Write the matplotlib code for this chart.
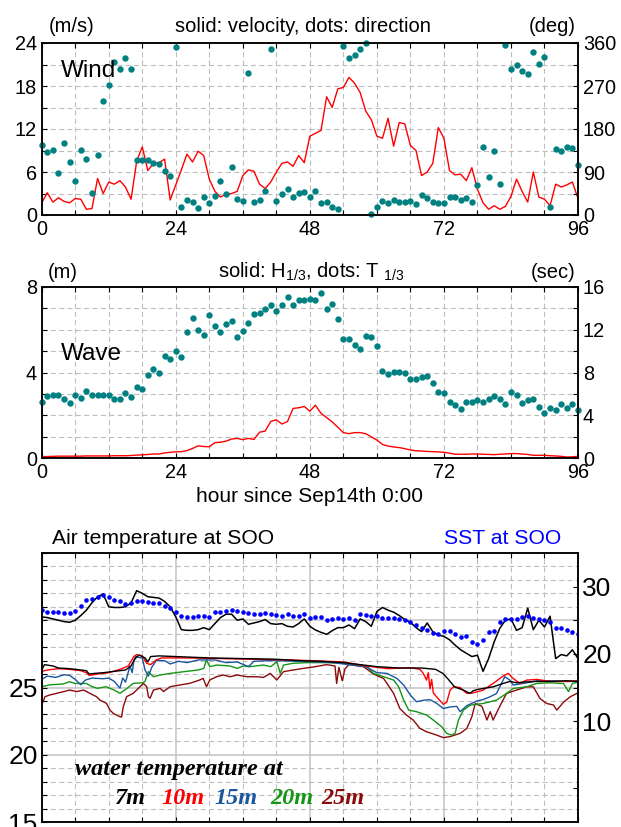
import numpy as np
import matplotlib
matplotlib.use('Agg')
import matplotlib.pyplot as plt
from matplotlib.ticker import MultipleLocator, FixedLocator, FixedFormatter, NullFormatter

plt.rcParams['font.family'] = ['Liberation Sans', 'DejaVu Sans']
plt.rcParams['mathtext.fontset'] = 'custom'
plt.rcParams['mathtext.rm'] = 'Liberation Sans'
plt.rcParams['mathtext.it'] = 'Liberation Sans:italic'
plt.rcParams['mathtext.bf'] = 'Liberation Sans:bold'

# ---------------- data ----------------
hours = np.arange(97)

wind_speed = [1.7, 3.1, 1.8, 2.4, 1.9, 1.7, 2.3, 2.2, 0.8, 0.9,
              5.1, 3.0, 4.6, 4.3, 4.8, 3.9, 2.2, 7.5, 9.5, 6.2,
              7.2, 7.3, 7.8, 2.1, 4.2, 6.3, 8.5, 7.4, 8.9, 8.3,
              5.0, 3.3, 2.5, 2.9, 3.0, 3.3, 5.5, 6.3, 6.1, 4.3,
              3.7, 4.6, 6.0, 7.2, 7.4, 6.8, 8.3, 7.3, 11.0, 11.4,
              11.8, 16.5, 15.0, 17.6, 17.8, 19.2, 18.4, 17.1, 14.5, 13.3,
              11.0, 10.7, 13.5, 9.6, 12.9, 12.7, 9.7, 9.0, 5.5, 6.0,
              7.2, 12.2, 10.7, 6.2, 5.6, 5.7, 4.8, 6.6, 3.6, 1.7,
              0.8, 1.3, 0.8, 1.2, 2.6, 5.0, 3.3, 1.8, 6.0, 2.5,
              2.2, 1.3, 4.3, 3.9, 4.2, 4.6, 2.3]

wind_dir = [146, 131, 136, 87, 151, 111, 71, 137, 118, 47,
            125, 239, 273, 320, 305, 328, 306, 116, 116, 116,
            108, 107, 93, 82, 351, 17, 32, 28, 15, 38,
            26, 40, 72, 43, 100, 33, 29, 297, 28, 32,
            51, 347, 29, 45, 54, 38, 47, 48, 38, 50,
            26, 28, 17, 13, 354, 328, 334, 348, 360, 2,
            17, 29, 26, 32, 27, 27, 30, 24, 42, 36,
            27, 26, 26, 38, 38, 31, 36, 27, 62, 143,
            80, 134, 65, 355, 305, 315, 302, 295, 341, 317,
            331, 17, 138, 134, 143, 141, 104]

wave_height = [0.08, 0.08, 0.09, 0.10, 0.10, 0.10, 0.10, 0.10, 0.11, 0.11,
               0.11, 0.11, 0.11, 0.12, 0.12, 0.12, 0.13, 0.15, 0.16, 0.18,
               0.20, 0.20, 0.25, 0.28, 0.30, 0.31, 0.36, 0.46, 0.58, 0.55,
               0.54, 0.73, 0.75, 0.80, 0.90, 0.93, 0.87, 0.93, 0.88, 1.22,
               1.27, 1.72, 1.80, 1.60, 1.72, 2.33, 2.36, 2.42, 2.20, 2.48,
               2.10, 1.90, 1.70, 1.45, 1.20, 1.15, 1.20, 1.20, 1.15, 1.00,
               0.85, 0.65, 0.57, 0.53, 0.50, 0.45, 0.39, 0.35, 0.34, 0.32,
               0.31, 0.30, 0.28, 0.24, 0.19, 0.19, 0.19, 0.20, 0.20, 0.19,
               0.18, 0.17, 0.19, 0.20, 0.22, 0.22, 0.20, 0.18, 0.14, 0.14,
               0.14, 0.12, 0.11, 0.09, 0.06, 0.07, 0.09]

wave_period = [5.3, 5.8, 5.9, 5.9, 5.5, 5.2, 5.9, 5.6, 6.3, 5.9,
               5.9, 5.9, 5.9, 5.5, 5.5, 6.1, 5.7, 6.7, 6.5, 7.8,
               8.3, 8.0, 9.6, 9.3, 10.0, 9.5, 11.8, 13.1, 12.0, 11.5,
               13.4, 12.4, 11.8, 12.5, 12.8, 11.3, 11.9, 12.6, 13.5, 13.6,
               13.9, 14.3, 13.8, 14.3, 15.1, 14.3, 14.8, 14.8, 14.9, 14.8,
               15.4, 13.9, 14.4, 13.0, 11.1, 11.1, 10.6, 10.2, 11.4, 11.3,
               10.5, 8.2, 7.9, 8.1, 8.1, 8.0, 7.4, 7.4, 7.6, 7.7,
               7.0, 6.2, 6.1, 5.3, 5.0, 4.6, 5.3, 5.3, 5.4, 5.3,
               5.5, 5.8, 5.5, 5.1, 6.2, 5.9, 5.2, 5.4, 5.5, 4.8,
               4.2, 4.7, 4.5, 5.1, 4.7, 5.1, 4.5]

sst = [26.5, 26.3, 26.2, 26.2, 26.1, 26.1, 26.4, 27.1, 28.0, 28.1,
       28.5, 28.7, 28.5, 28.0, 27.9, 27.4, 27.5, 27.9, 27.8, 27.7,
       27.6, 27.5, 27.1, 26.8, 26.3, 25.6, 25.5, 25.5, 25.6, 25.7,
       25.5, 26.2, 26.3, 26.4, 26.5, 26.4, 26.3, 26.1, 26.0, 26.0,
       26.1, 25.9, 25.8, 25.7, 25.9, 25.7, 25.6, 25.9, 25.4, 25.5,
       25.5, 25.1, 25.2, 25.3, 25.2, 25.4, 25.1, 25.9, 25.8, 25.7,
       25.6, 25.4, 25.3, 25.3, 25.2, 25.1, 24.8, 24.3, 23.9, 23.6,
       23.1, 23.0, 23.4, 23.4, 22.9, 22.5, 22.6, 21.7, 21.5, 22.1,
       23.3, 23.4, 24.7, 25.2, 25.2, 25.2, 25.5, 25.7, 25.4, 25.2,
       25.0, 24.7, 23.9, 23.8, 23.6, 23.2, 23.0]

air_temp = [25.5, 25.4, 25.2, 25.0, 24.8, 24.7, 25.0, 25.7, 26.5, 27.6,
            28.5, 28.9, 27.0, 26.9, 26.9, 27.0, 27.6, 29.4, 29.0, 28.5,
            28.4, 28.3, 27.8, 27.0, 25.5, 23.6, 23.5, 23.5, 23.6, 23.9,
            23.6, 24.5, 25.4, 25.9, 25.9, 25.0, 25.2, 24.4, 24.6, 24.8,
            25.1, 24.5, 24.4, 24.5, 24.1, 24.0, 24.5, 25.2, 24.1, 23.55,
            23.2, 22.9, 23.45, 23.9, 23.9, 24.3, 23.75, 25.2, 24.8, 24.1,
            26.3, 26.9, 26.5, 26.2, 25.7, 25.1, 24.7, 23.9, 23.3, 24.6,
            23.3, 22.8, 22.6, 22.1, 21.3, 20.6, 20.1, 19.6, 19.8, 17.4,
            19.3, 21.8, 23.8, 25.0, 25.2, 23.5, 23.9, 26.8, 23.6, 25.0,
            24.0, 25.6, 19.3, 19.9, 19.7, 20.6, 19.3]

# water temperature (hour, degC) at each depth
t7 = [0, 0.5, 2, 3, 5, 7, 8, 8.5, 9.5, 11, 13, 15, 16, 16.8, 17.5, 18.5, 19, 19.5, 21,
      24, 30, 36, 42, 46, 50, 54, 57, 60, 64, 68, 70.5, 71.8, 72.8, 73.9, 75.5, 76.7,
      77.2, 78, 79, 80.8, 82.6, 83.8, 85, 86.2, 88.6, 91, 94, 96]
w7 = [26.3, 26.7, 26.6, 26.45, 26.4, 26.3, 26.25, 26.0, 26.05, 26.1, 26.2, 26.3, 26.6, 27.25,
      27.4, 27.2, 26.9, 27.3, 27.35, 27.3, 27.2, 27.15, 27.1, 27.0, 26.95, 26.85, 26.7, 26.55,
      26.45, 26.45, 26.35, 26.05, 25.6, 25.05, 24.8, 24.56, 24.75, 24.85, 24.93, 25.05, 25.3,
      25.45, 25.35, 25.4, 25.45, 25.45, 25.5, 25.45]

t10 = [0, 1, 3, 5, 7, 8, 8.5, 10, 12, 14, 15.5, 16.5, 17, 18, 18.8, 19.5, 20.5, 21.5, 26,
       32, 38, 44, 48, 54, 58, 62, 66, 67.7, 68.3, 68.9, 69.2, 69.5, 69.8, 70.1, 70.7, 71.9,
       72.5, 73.1, 73.7, 74.9, 76.1, 77.2, 79, 80.8, 82.6, 83.5, 84.4, 85.6, 86.8, 88.6, 91,
       94, 96]
w10 = [26.2, 26.3, 26.4, 26.35, 26.25, 26.1, 25.9, 26.0, 26.1, 26.35, 26.6, 27.3, 27.45,
       27.35, 26.8, 26.7, 27.05, 27.2, 27.2, 27.15, 27.1, 27.05, 27.0, 26.9, 26.6, 26.4, 26.47,
       26.35, 26.05, 25.55, 26.1, 24.9, 25.6, 24.6, 24.3, 23.75, 23.9, 24.8, 25.05, 25.0, 24.56,
       24.6, 24.8, 25.3, 25.85, 26.05, 25.67, 25.3, 25.55, 25.6, 25.45, 25.45, 25.5]

t15 = [0, 1, 2.5, 4, 5, 6, 7, 7.8, 9, 11, 12, 13, 14, 14.5, 15, 15.8, 16.2, 16.5, 17, 18,
       18.5, 19.1, 19.7, 20.5, 22, 23, 24.5, 26, 28, 31, 33, 35, 37, 38, 41, 46, 52, 58, 60,
       61.8, 63.6, 64.8, 66, 67.1, 68.3, 69.5, 70.7, 71.9, 73.1, 74.3, 74.9, 76.1, 77.9, 79,
       80.2, 81.4, 82.3, 82.9, 83.8, 84.4, 86.2, 88.6, 91, 94, 96]
w15 = [25.6, 25.85, 25.75, 25.95, 25.9, 25.6, 25.2, 25.55, 25.7, 25.65, 25.7, 25.45, 24.95,
       25.7, 25.4, 26.6, 26.1, 27.0, 27.25, 27.2, 26.3, 25.85, 26.5, 27.0, 27.0, 26.75, 26.95,
       26.85, 27.05, 27.05, 26.85, 26.9, 26.55, 26.95, 27.0, 26.95, 26.85, 26.55, 26.1, 26.05,
       25.67, 25.18, 24.43, 23.94, 24.05, 24.1, 23.82, 23.44, 23.55, 23.6, 23.2, 23.65, 24.0,
       24.1, 24.3, 24.55, 25.3, 25.8, 25.55, 25.18, 25.3, 25.5, 25.5, 25.45, 25.45]

t20 = [0, 1.5, 3.8, 5, 6, 8, 9, 10, 11.5, 13, 14, 15, 16.4, 18, 18.5, 19.1, 20, 21.2, 23,
       25.5, 28, 29, 29.5, 30.1, 31.3, 33.7, 35, 36.1, 37.3, 39.7, 41, 42.1, 42.7, 43.3, 45,
       47.5, 51, 55, 58.2, 59.4, 61.2, 63, 63.9, 64.8, 65.7, 67.1, 68.9, 70.1, 71.6, 72.5,
       73.4, 74, 74.6, 75.5, 76.7, 79, 81.4, 83.2, 84.4, 86.8, 88.6, 91, 93.4, 94.3, 95, 96]
w20 = [25.06, 25.2, 25.26, 25.43, 25.3, 25.3, 25.06, 24.94, 25.06, 24.8, 24.57, 24.85, 25.31,
       25.35, 25.45, 26.18, 25.8, 25.93, 26.05, 26.18, 26.3, 26.42, 27.04, 26.55, 26.67, 26.6,
       26.42, 26.6, 26.55, 26.67, 26.55, 26.92, 26.05, 26.67, 26.8, 26.85, 26.85, 26.8, 26.55,
       26.05, 25.8, 25.55, 25.05, 24.06, 23.32, 23.2, 22.95, 22.58, 22.08, 21.59, 21.46, 21.6,
       22.58, 23.32, 23.69, 23.81, 24.06, 24.56, 24.93, 25.05, 25.3, 25.35, 25.3, 24.7, 25.3,
       25.4]

t25 = [0, 0.6, 1.5, 2.7, 4, 5, 6.3, 7.5, 8.6, 9.8, 10.4, 11.6, 12.2, 12.8, 13.4, 14, 14.3,
       14.6, 15.2, 16.4, 17.6, 18.2, 18.8, 19.1, 19.4, 20, 21.2, 21.8, 23, 24.8, 26.5, 28.3,
       28.9, 29.5, 30.1, 30.7, 31.3, 32.5, 33.7, 35, 36.7, 38.5, 39.7, 40.9, 42.1, 43.3, 45,
       46.8, 49, 51, 52.5, 52.8, 53.2, 53.8, 54.3, 55, 57.6, 59.4, 61.2, 63, 64.1, 65.3, 66.5,
       67.7, 68.9, 70.7, 71.9, 73.1, 74.9, 76.1, 77, 77.6, 78.8, 79.7, 80.3, 80.8, 82, 83.2,
       85, 86.8, 88, 89.2, 90.4, 91.6, 92.2, 93.4, 94.6, 96]
w25 = [23.7, 24.32, 24.45, 24.57, 24.7, 24.81, 24.7, 24.81, 24.57, 24.32, 24.07, 23.82, 23.33,
       23.08, 22.95, 22.83, 22.8, 23.57, 24.32, 24.57, 25.06, 25.31, 25.06, 24.32, 24.2, 24.81,
       24.94, 24.7, 25.06, 25.19, 25.31, 25.56, 25.68, 25.06, 25.56, 25.68, 25.8, 25.93, 25.8,
       25.93, 25.8, 25.8, 25.75, 26.05, 25.56, 26.18, 26.3, 26.42, 26.55, 26.7, 26.6, 25.3,
       26.5, 25.5, 26.4, 26.7, 26.55, 26.0, 25.67, 24.56, 23.44, 22.95, 22.58, 21.96, 21.71,
       21.46, 21.27, 21.35, 21.59, 21.96, 22.82, 23.81, 23.6, 22.58, 23.2, 22.58, 23.6, 24.56,
       24.81, 25.05, 25.05, 24.18, 23.81, 23.7, 23.32, 23.9, 24.31, 24.6]

depth_labels = ['7m', '10m', '15m', '20m', '25m']
depth_colors = ['black', '#ff0000', '#1a55a0', '#149614', '#8b0a0a']

# ---------------- figure ----------------
W, H = 621, 827
fig = plt.figure(figsize=(W / 100, H / 100), dpi=100)


def rect(l, t, r, b):
    return [l / W, 1 - b / H, (r - l) / W, (b - t) / H]


def ptext(x, y, s, **kw):
    kw.setdefault('va', 'center')
    fig.text(x / W, 1 - y / H, s, **kw)


GRID = dict(color='#bdbdbd', linestyle=(0, (4.5, 3)), linewidth=0.8)
TEAL = '#008080'
TICK_FS = 14.3
TITLE_FS = 14.5


def frame(ax):
    for s in ax.spines.values():
        s.set_linewidth(1.1)
        s.set_color('black')


def base_axes(ax, fs, pad):
    frame(ax)
    ax.set_xlim(0, 96)
    ax.tick_params(which='both', direction='in', length=3.6, width=0.8,
                   top=True, bottom=True, left=True, right=False,
                   labelsize=fs, pad=pad)
    ax.set_axisbelow(True)


# ---- Wind ----
ax1 = fig.add_axes(rect(41.7, 43, 578, 215))
base_axes(ax1, TICK_FS, 3.5)
ax1.set_ylim(0, 24)
ax1.xaxis.set_major_locator(MultipleLocator(24))
ax1.xaxis.set_minor_locator(MultipleLocator(6))
ax1.yaxis.set_major_locator(MultipleLocator(6))
ax1.yaxis.set_minor_locator(MultipleLocator(3))
ax1.grid(which='both', **GRID)
ax1.plot(hours, wind_speed, color='red', lw=1.0)
ax1r = ax1.twinx()
frame(ax1r)
ax1r.set_ylim(0, 360)
ax1r.yaxis.set_major_locator(MultipleLocator(90))
ax1r.yaxis.set_minor_locator(MultipleLocator(45))
ax1r.tick_params(which='both', direction='in', length=3.6, width=0.8,
                 labelsize=TICK_FS, pad=3.5)
ax1r.plot(hours, wind_dir, 'o', color=TEAL, ms=4.6, mec='none', clip_on=False)

ptext(49, 27, '(m/s)', size=TITLE_FS)
ptext(303, 27, 'solid: velocity, dots: direction', ha='center', size=TITLE_FS)
ptext(576, 27, '(deg)', ha='right', size=TITLE_FS)
ptext(61, 71, 'Wind', size=17.5)

# ---- Wave ----
ax2 = fig.add_axes(rect(41.7, 287, 578, 458.3))
base_axes(ax2, TICK_FS, 3.5)
ax2.set_ylim(0, 8)
ax2.xaxis.set_major_locator(MultipleLocator(24))
ax2.xaxis.set_minor_locator(MultipleLocator(6))
ax2.yaxis.set_major_locator(MultipleLocator(4))
ax2.yaxis.set_minor_locator(MultipleLocator(1))
ax2.grid(which='both', **GRID)
ax2.plot(hours, wave_height, color='red', lw=1.0)
ax2r = ax2.twinx()
frame(ax2r)
ax2r.set_ylim(0, 16)
ax2r.yaxis.set_major_locator(MultipleLocator(4))
ax2r.yaxis.set_minor_locator(MultipleLocator(2))
ax2r.tick_params(which='both', direction='in', length=3.6, width=0.8,
                 labelsize=TICK_FS, pad=3.5)
ax2r.plot(hours, wave_period, 'o', color=TEAL, ms=4.6, mec='none', clip_on=False)

ptext(48, 272, '(m)', size=TITLE_FS)
ptext(311, 272, r'solid: H$_{1/3}$, dots: T $_{1/3}$', ha='center', size=TITLE_FS)
ptext(575, 272, '(sec)', ha='right', size=TITLE_FS)
ptext(61, 354, 'Wave', size=17.5)
ptext(310, 497, 'hour since Sep14th 0:00', ha='center', size=15)

# ---- Temperature ----
ax3 = fig.add_axes(rect(41.7, 553, 578, 822))
base_axes(ax3, 19, 3)
ax3.set_ylim(15, 35)
ax3.xaxis.set_major_locator(MultipleLocator(24))
ax3.xaxis.set_minor_locator(MultipleLocator(6))
ax3.xaxis.set_major_formatter(NullFormatter())
ax3.yaxis.set_major_locator(FixedLocator([15, 20, 25, 30]))
ax3.yaxis.set_major_formatter(FixedFormatter(['15', '20', '25', '']))
ax3.yaxis.set_minor_locator(MultipleLocator(1))
ax3.grid(which='minor', **GRID)
ax3.grid(which='major', color='#c4c4c4', linestyle='-', linewidth=1.1)
for tt, ww, c in zip([t7, t10, t15, t20, t25][::-1], [w7, w10, w15, w20, w25][::-1],
                     depth_colors[::-1]):
    ax3.plot(tt, ww, color=c, lw=1.0)
ax3r = ax3.twinx()
frame(ax3r)
ax3r.set_ylim(-5, 35)
ax3r.yaxis.set_major_locator(FixedLocator([10, 20, 30]))
ax3r.yaxis.set_minor_locator(FixedLocator([0, 5, 15, 25]))
ax3r.tick_params(which='both', direction='in', length=3.6, width=0.8,
                 labelsize=19, pad=3)
ax3r.plot(hours, air_temp, color='black', lw=1.1)
ax3r.plot(hours, sst, 'o', color='#0000ff', ms=3.3, mec='none')

ptext(52, 538, 'Air temperature at SOO', size=15.2)
ptext(444, 538, 'SST at SOO', size=15.2, color='#0000ff')
SERIF = dict(family=['Liberation Serif', 'DejaVu Serif'], weight='bold', style='italic', size=17.5)
ptext(75, 770, 'water temperature at', **SERIF)
for x, lab, c in zip([115, 161, 214, 270, 321], depth_labels, depth_colors):
    ptext(x, 798, lab, color=c, **SERIF)

fig.savefig('out.png', dpi=100)
